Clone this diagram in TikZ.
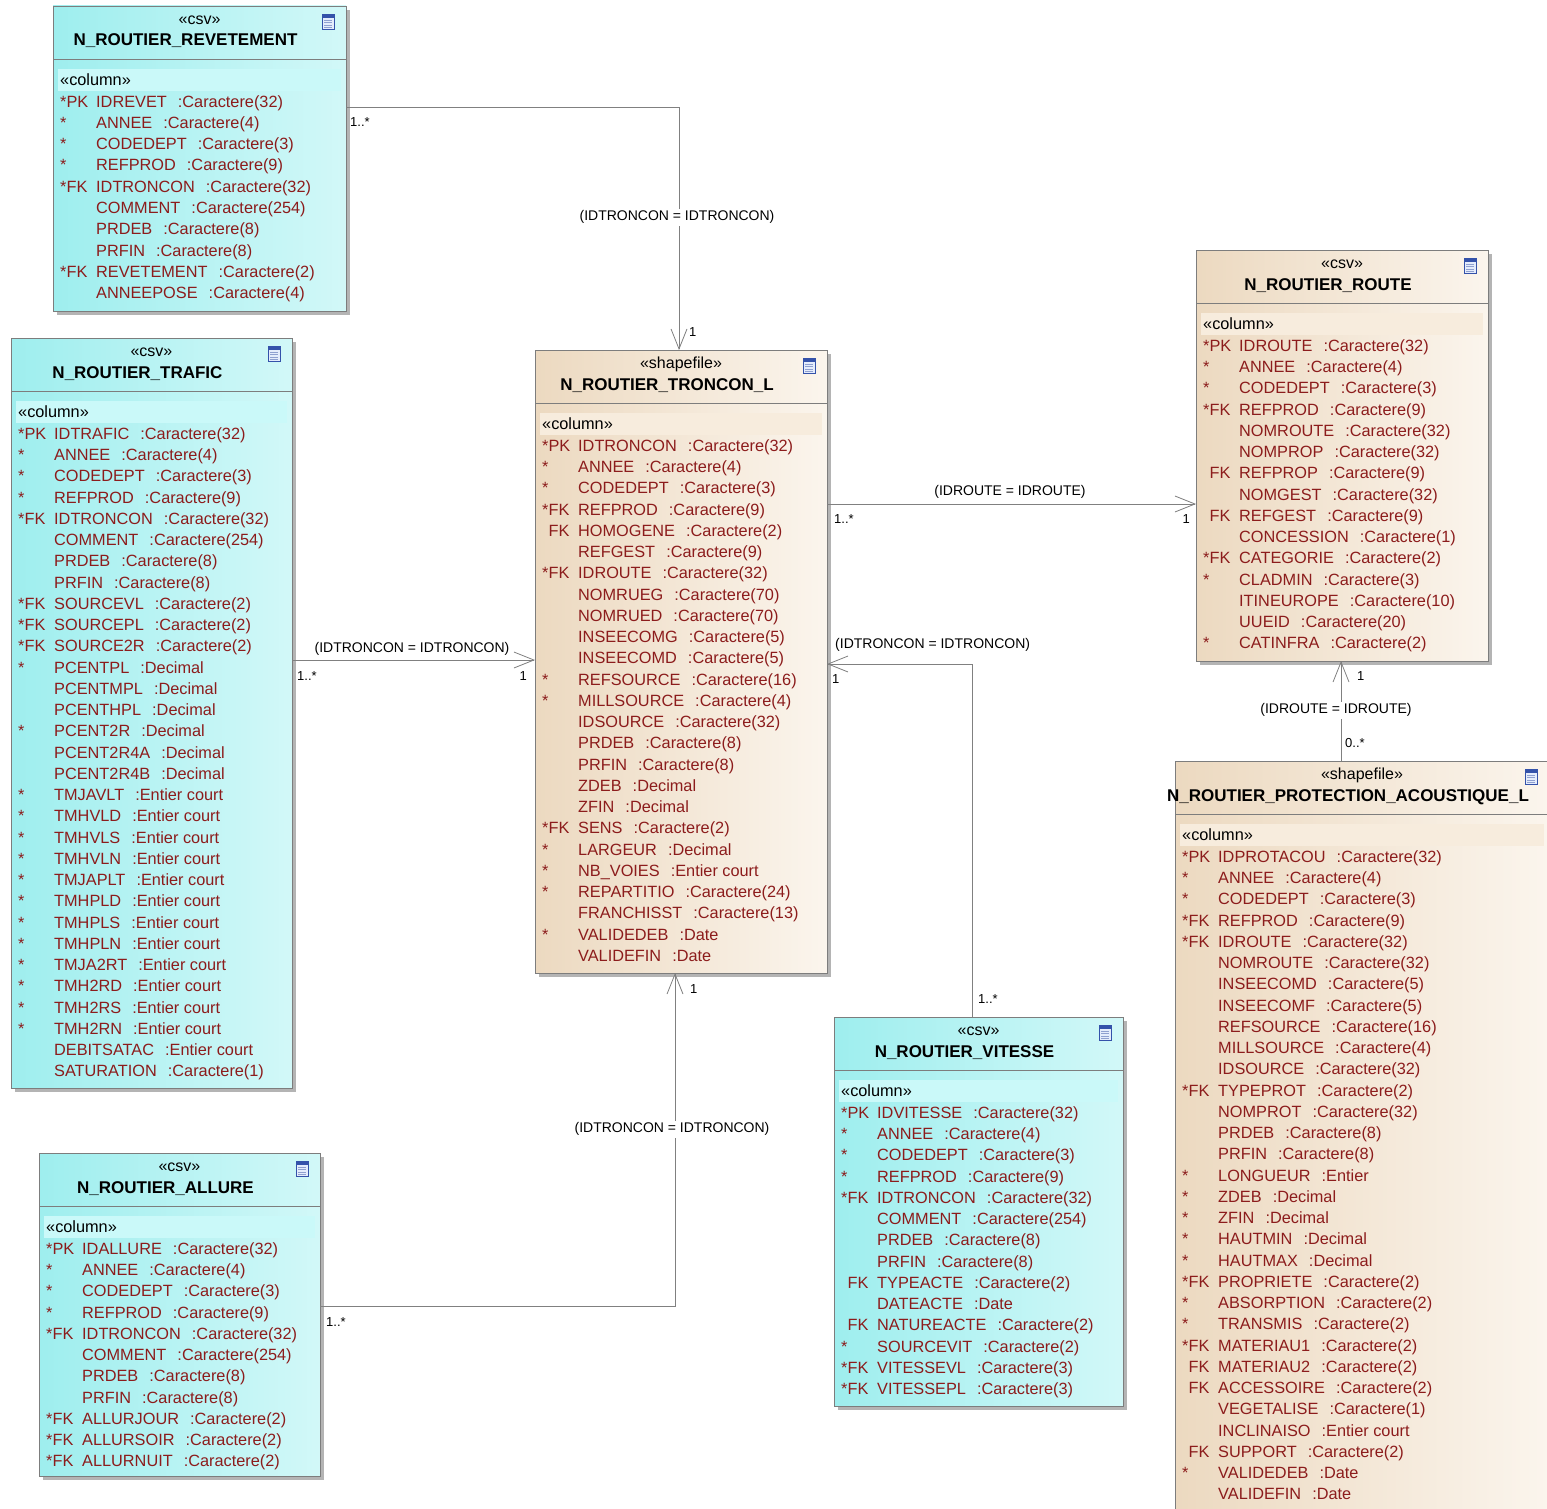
\documentclass[tikz,border=0pt]{standalone}
\usepackage{fontspec}
\setmainfont{Liberation Sans}
\usetikzlibrary{arrows.meta, shadows}

\definecolor{csvleft}{RGB}{158,238,238}
\definecolor{csvright}{RGB}{210,248,248}
\definecolor{csvband}{RGB}{202,249,249}
\definecolor{shpleft}{RGB}{236,217,192}
\definecolor{shpright}{RGB}{251,245,237}
\definecolor{shpband}{RGB}{247,236,221}
\definecolor{boxgray}{RGB}{125,125,125}
\definecolor{shadowgray}{RGB}{180,180,180}
\definecolor{rowred}{RGB}{140,28,28}
\definecolor{linegray}{RGB}{128,128,128}
\definecolor{iconblue}{RGB}{52,82,170}
\definecolor{iconfill}{RGB}{228,236,252}

\tikzset{
  tablebox/.style={draw=boxgray, line width=0.8pt, inner sep=0pt, outer sep=0pt,
    drop shadow={shadow xshift=4pt, shadow yshift=-4pt, fill=shadowgray, opacity=1}},
  csvbox/.style={tablebox, left color=csvleft, right color=csvright},
  shpbox/.style={tablebox, left color=shpleft, right color=shpright},
  boxline/.style={draw=boxgray, line width=0.8pt},
  stereo/.style={font=\fontsize{16}{19}\selectfont, inner sep=0pt, text height=11.5pt, text depth=0pt},
  tabletitle/.style={font=\bfseries\fontsize{17}{20}\selectfont, inner sep=0pt, text height=12pt, text depth=0pt},
  coltext/.style={font=\fontsize{16.3}{19}\selectfont, text=rowred, anchor=west, inner sep=0pt, text height=11.5pt, text depth=0pt},
  tableicon/.style={draw=iconblue, line width=0.9pt, fill=iconfill, minimum width=12pt, minimum height=15pt, inner sep=0pt,
    path picture={
      \fill[iconblue] (path picture bounding box.north west) rectangle ([yshift=-3.5pt]path picture bounding box.north east);
      \foreach \j in {1,2,3,4}
        \draw[iconblue!55, line width=0.8pt] ([xshift=2pt,yshift={-3.5pt-\j*2.4pt}]path picture bounding box.north west) -- ([xshift=-2pt,yshift={-3.5pt-\j*2.4pt}]path picture bounding box.north east);
    }},
  assoc/.style={draw=linegray, line width=0.8pt, -{Straight Barb[length=20pt, width=16pt]}},
  lbl/.style={font=\fontsize{14}{17}\selectfont, inner sep=1pt, text height=10pt, text depth=3pt},
  lblw/.style={lbl, fill=white, inner sep=2pt},
  mult/.style={font=\fontsize{13}{15}\selectfont, inner sep=0pt, text height=9.5pt, text depth=0pt},
}

\newcommand{\nfk}{\phantom{*}FK}

\newcommand{\dbtable}[8]{%
  \node[#2box, anchor=north west, minimum width={(#5-#3)*1pt}, minimum height={(#6-#4)*1pt}] (#1) at (#3,#4) {};
  \draw[boxline] ([yshift=-53pt]#1.north west) -- ([yshift=-53pt]#1.north east);
  \fill[#2band] ([xshift=5pt,yshift=-63pt]#1.north west) rectangle ([xshift=-5pt,yshift=-85pt]#1.north east);
  \node[stereo] (#1st) at ([yshift=-13pt]#1.north) {«#7»};
  \node[tabletitle] (#1ti) at ([xshift=-14pt,yshift=-34pt]#1.north) {#8};
  \node[tableicon] (#1ic) at ([xshift=-18pt,yshift=-16pt]#1.north east) {};
  \node[coltext, text=black] (#1col) at ([xshift=7pt,yshift=-74pt]#1.north west) {«column»};
}

\newcommand{\dbrows}[2]{%
  \foreach \kk/\nm/\ty [count=\i] in {#2} {
    \node[coltext] (#1k\i) at ([xshift=7pt,yshift={-95.5pt-(\i-1)*21.25pt}]#1.north west) {\kk};
    \node[coltext] (#1r\i) at ([xshift=43pt,yshift={-95.5pt-(\i-1)*21.25pt}]#1.north west) {\nm\hspace{.68em}:\ty};
  }%
}

\begin{document}
\begin{tikzpicture}[x=1pt, y=-1pt]
    \useasboundingbox (0,0) rectangle (1547,1509);
    \clip (0,0) rectangle (1547,1509);

    \dbtable{revet}{csv}{53}{6}{346}{311}{csv}{N\_ROUTIER\_REVETEMENT}
    \dbrows{revet}{*PK/IDREVET/Caractere(32), */ANNEE/Caractere(4), */CODEDEPT/Caractere(3),
      */REFPROD/Caractere(9), *FK/IDTRONCON/Caractere(32), {}/COMMENT/Caractere(254),
      {}/PRDEB/Caractere(8), {}/PRFIN/Caractere(8), *FK/REVETEMENT/Caractere(2),
      {}/ANNEEPOSE/Caractere(4)}

    \dbtable{trafic}{csv}{11}{338}{292}{1088}{csv}{N\_ROUTIER\_TRAFIC}
    \dbrows{trafic}{*PK/IDTRAFIC/Caractere(32), */ANNEE/Caractere(4), */CODEDEPT/Caractere(3),
      */REFPROD/Caractere(9), *FK/IDTRONCON/Caractere(32), {}/COMMENT/Caractere(254),
      {}/PRDEB/Caractere(8), {}/PRFIN/Caractere(8), *FK/SOURCEVL/Caractere(2),
      *FK/SOURCEPL/Caractere(2), *FK/SOURCE2R/Caractere(2), */PCENTPL/Decimal,
      {}/PCENTMPL/Decimal, {}/PCENTHPL/Decimal, */PCENT2R/Decimal, {}/PCENT2R4A/Decimal,
      {}/PCENT2R4B/Decimal, */TMJAVLT/Entier court, */TMHVLD/Entier court,
      */TMHVLS/Entier court, */TMHVLN/Entier court, */TMJAPLT/Entier court,
      */TMHPLD/Entier court, */TMHPLS/Entier court, */TMHPLN/Entier court,
      */TMJA2RT/Entier court, */TMH2RD/Entier court, */TMH2RS/Entier court,
      */TMH2RN/Entier court, {}/DEBITSATAC/Entier court, {}/SATURATION/Caractere(1)}

    \dbtable{allure}{csv}{39}{1153}{320}{1476}{csv}{N\_ROUTIER\_ALLURE}
    \dbrows{allure}{*PK/IDALLURE/Caractere(32), */ANNEE/Caractere(4), */CODEDEPT/Caractere(3),
      */REFPROD/Caractere(9), *FK/IDTRONCON/Caractere(32), {}/COMMENT/Caractere(254),
      {}/PRDEB/Caractere(8), {}/PRFIN/Caractere(8), *FK/ALLURJOUR/Caractere(2),
      *FK/ALLURSOIR/Caractere(2), *FK/ALLURNUIT/Caractere(2)}

    \dbtable{troncon}{shp}{535}{350}{827}{973}{shapefile}{N\_ROUTIER\_TRONCON\_L}
    \dbrows{troncon}{*PK/IDTRONCON/Caractere(32), */ANNEE/Caractere(4), */CODEDEPT/Caractere(3),
      *FK/REFPROD/Caractere(9), \nfk/HOMOGENE/Caractere(2), {}/REFGEST/Caractere(9),
      *FK/IDROUTE/Caractere(32), {}/NOMRUEG/Caractere(70), {}/NOMRUED/Caractere(70),
      {}/INSEECOMG/Caractere(5), {}/INSEECOMD/Caractere(5), */REFSOURCE/Caractere(16),
      */MILLSOURCE/Caractere(4), {}/IDSOURCE/Caractere(32), {}/PRDEB/Caractere(8),
      {}/PRFIN/Caractere(8), {}/ZDEB/Decimal, {}/ZFIN/Decimal, *FK/SENS/Caractere(2),
      */LARGEUR/Decimal, */NB\_VOIES/Entier court, */REPARTITIO/Caractere(24),
      {}/FRANCHISST/Caractere(13), */VALIDEDEB/Date, {}/VALIDEFIN/Date}

    \dbtable{route}{shp}{1196}{250}{1488}{661}{csv}{N\_ROUTIER\_ROUTE}
    \dbrows{route}{*PK/IDROUTE/Caractere(32), */ANNEE/Caractere(4), */CODEDEPT/Caractere(3),
      *FK/REFPROD/Caractere(9), {}/NOMROUTE/Caractere(32), {}/NOMPROP/Caractere(32),
      \nfk/REFPROP/Caractere(9), {}/NOMGEST/Caractere(32), \nfk/REFGEST/Caractere(9),
      {}/CONCESSION/Caractere(1), *FK/CATEGORIE/Caractere(2), */CLADMIN/Caractere(3),
      {}/ITINEUROPE/Caractere(10), {}/UUEID/Caractere(20), */CATINFRA/Caractere(2)}

    \dbtable{vitesse}{csv}{834}{1017}{1123}{1406}{csv}{N\_ROUTIER\_VITESSE}
    \dbrows{vitesse}{*PK/IDVITESSE/Caractere(32), */ANNEE/Caractere(4), */CODEDEPT/Caractere(3),
      */REFPROD/Caractere(9), *FK/IDTRONCON/Caractere(32), {}/COMMENT/Caractere(254),
      {}/PRDEB/Caractere(8), {}/PRFIN/Caractere(8), \nfk/TYPEACTE/Caractere(2),
      {}/DATEACTE/Date, \nfk/NATUREACTE/Caractere(2), */SOURCEVIT/Caractere(2),
      *FK/VITESSEVL/Caractere(3), *FK/VITESSEPL/Caractere(3)}

    \dbtable{acous}{shp}{1175}{761}{1549}{1530}{shapefile}{N\_ROUTIER\_PROTECTION\_ACOUSTIQUE\_L}
    \dbrows{acous}{*PK/IDPROTACOU/Caractere(32), */ANNEE/Caractere(4), */CODEDEPT/Caractere(3),
      *FK/REFPROD/Caractere(9), *FK/IDROUTE/Caractere(32), {}/NOMROUTE/Caractere(32),
      {}/INSEECOMD/Caractere(5), {}/INSEECOMF/Caractere(5), {}/REFSOURCE/Caractere(16),
      {}/MILLSOURCE/Caractere(4), {}/IDSOURCE/Caractere(32), *FK/TYPEPROT/Caractere(2),
      {}/NOMPROT/Caractere(32), {}/PRDEB/Caractere(8), {}/PRFIN/Caractere(8),
      */LONGUEUR/Entier, */ZDEB/Decimal, */ZFIN/Decimal, */HAUTMIN/Decimal,
      */HAUTMAX/Decimal, *FK/PROPRIETE/Caractere(2), */ABSORPTION/Caractere(2),
      */TRANSMIS/Caractere(2), *FK/MATERIAU1/Caractere(2), \nfk/MATERIAU2/Caractere(2),
      \nfk/ACCESSOIRE/Caractere(2), {}/VEGETALISE/Caractere(1), {}/INCLINAISO/Entier court,
      \nfk/SUPPORT/Caractere(2), */VALIDEDEB/Date, {}/VALIDEFIN/Date}

    \coordinate (revetbend) at (679,107);
    \coordinate (vitbend) at (972,664);
    \coordinate (allbend) at (675,1306);

    \draw[assoc] (revet.east |- revetbend) -- (revetbend) -- (troncon.north -| revetbend);
    \node[lblw] (revetlbl) at (677,217) {(IDTRONCON = IDTRONCON)};
    \node[mult, anchor=west] (revetm1) at (350,122) {1..*};
    \node[mult, anchor=west] (revetm2) at (689,332) {1};

    \draw[assoc] (trafic.east |- 0,660) -- (troncon.west |- 0,660);
    \node[lbl] (traficlbl) at (412,649) {(IDTRONCON = IDTRONCON)};
    \node[mult, anchor=west] (traficm1) at (297,676) {1..*};
    \node[mult, anchor=east] (traficm2) at (527,676) {1};

    \draw[assoc] (troncon.east |- 0,504) -- (route.west |- 0,504);
    \node[lbl] (routelbl) at (1010,492) {(IDROUTE = IDROUTE)};
    \node[mult, anchor=west] (routem1) at (834,519) {1..*};
    \node[mult, anchor=east] (routem2) at (1190,519) {1};

    \draw[assoc] (vitesse.north -| vitbend) -- (vitbend) -- (troncon.east |- vitbend);
    \node[lbl, anchor=west] (vitlbl) at (834,645) {(IDTRONCON = IDTRONCON)};
    \node[mult, anchor=west] (vitm1) at (978,999) {1..*};
    \node[mult, anchor=west] (vitm2) at (832,679) {1};

    \draw[assoc] (allure.east |- allbend) -- (allbend) -- (troncon.south -| allbend);
    \node[lblw] (alllbl) at (672,1129) {(IDTRONCON = IDTRONCON)};
    \node[mult, anchor=west] (allm1) at (326,1322) {1..*};
    \node[mult, anchor=west] (allm2) at (690,989) {1};

    \draw[assoc] (acous.north -| 1341,0) -- (route.south -| 1341,0);
    \node[lblw] (acouslbl) at (1336,710) {(IDROUTE = IDROUTE)};
    \node[mult, anchor=west] (acousm1) at (1345,743) {0..*};
    \node[mult, anchor=west] (acousm2) at (1357,676) {1};
\end{tikzpicture}
\end{document}
